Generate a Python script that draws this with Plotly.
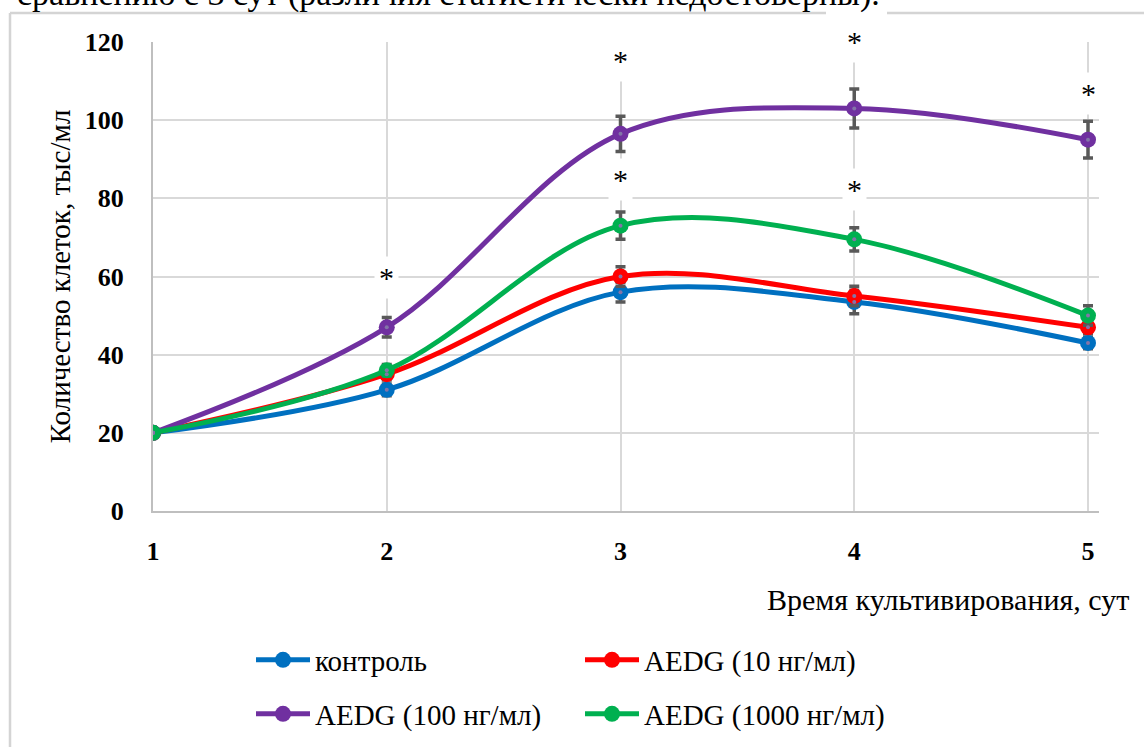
import plotly.graph_objects as go

# ---- data ----
days = [1, 2, 3, 4, 5]
control = [20, 31, 56, 53.5, 43]
aedg10 = [20, 35, 60, 55, 47]
aedg100 = [20, 47, 96.5, 103, 95]
aedg1000 = [20, 36, 73, 69.5, 50]

control_err = [0, 1.5, 2.5, 3, 1.5]
aedg10_err = [0, 1.5, 2.5, 2.5, 1.5]
aedg100_err = [0, 2.5, 4.5, 5, 4.7]
aedg1000_err = [0, 1.5, 3.5, 3, 2.5]

series_names = ["контроль", "AEDG (10 нг/мл)", "AEDG (100 нг/мл)", "AEDG (1000 нг/мл)"]

star_x = [2, 3, 3, 4, 4, 5]
star_y = [60, 115.5, 85, 120, 82.5, 107]

y_ticks = [0, 20, 40, 60, 80, 100, 120]
x_ticks = [1, 2, 3, 4, 5]

# ---- geometry helpers (layout only) ----
W, H = 1144, 747
L, R, T, B = 153, 45, 42, 236
PW, PH = W - L - R, H - T - B


def xp(px):
    return (px - L) / PW


def yp(py):
    return (H - B - py) / PH


def yc(py):
    return 1 - py / H


SERIF = "Liberation Serif, Times New Roman, serif"
colors = ["#0070C0", "#FF0000", "#7030A0", "#00B050"]
values = [control, aedg10, aedg100, aedg1000]
errors = [control_err, aedg10_err, aedg100_err, aedg1000_err]
legends = ["legend", "legend", "legend2", "legend2"]

fig = go.Figure()
for name, col, vals, err, lg in zip(series_names, colors, values, errors, legends):
    fig.add_trace(go.Scatter(
        x=days, y=vals, name=name, mode="lines+markers",
        line=dict(color=col, width=5, shape="spline", smoothing=1.0),
        marker=dict(color=col, size=16),
        error_y=dict(type="data", array=err, visible=True, color="#595959",
                     thickness=3.5, width=5),
        legend=lg,
    ))
# small inner dots of the markers
for col, vals in zip(colors, values):
    fig.add_trace(go.Scatter(
        x=days, y=vals, mode="markers", showlegend=False, hoverinfo="skip",
        marker=dict(color="#8374A8", size=4),
    ))

# asterisks
for sx, sy in zip(star_x, star_y):
    fig.add_annotation(
        x=sx, y=sy, xref="x", yref="y", text="*", showarrow=False,
        font=dict(family=SERIF, size=30, color="black"),
        bgcolor="white", borderpad=4, yshift=1 if sy >= 120 else -1,
    )

# x-axis title
fig.add_annotation(
    x=xp(1131), y=yp(599), xref="paper", yref="paper",
    xanchor="right", yanchor="middle", showarrow=False,
    text="Время культивирования, сут",
    font=dict(family=SERIF, size=30, color="black"),
)
# cut-off caption at the top
fig.add_annotation(
    x=xp(882), y=yp(15), xref="paper", yref="paper",
    xanchor="right", yanchor="bottom", showarrow=False,
    text="сравнению с 3 сут (различия статистически недостоверны).",
    font=dict(family=SERIF, size=34, color="black"),
)

# frame of the chart area
frame = dict(color="#d4d4d4", width=2.5)
fig.add_shape(type="line", xref="paper", yref="paper",
              x0=xp(10), x1=xp(10), y0=yp(13), y1=yp(H + 5), line=frame)
fig.add_shape(type="line", xref="paper", yref="paper",
              x0=xp(10), x1=xp(826), y0=yp(13), y1=yp(13), line=frame)
fig.add_shape(type="line", xref="paper", yref="paper",
              x0=xp(887), x1=xp(W + 5), y0=yp(13), y1=yp(13), line=frame)

legend_common = dict(
    orientation="h", xanchor="left", yanchor="middle", yref="container",
    entrywidth=260, entrywidthmode="pixels", bgcolor="rgba(0,0,0,0)",
    font=dict(family=SERIF, size=29, color="black"), itemwidth=54,
    tracegroupgap=0,
)

fig.update_layout(
    width=W, height=H,
    margin=dict(l=L, r=R, t=T, b=B, pad=0),
    paper_bgcolor="white", plot_bgcolor="white",
    font=dict(family=SERIF, color="black"),
    xaxis=dict(
        range=[1, 1 + (1099 - 153) / ((1088 - 153) / 4)],
        tickvals=x_ticks, ticktext=[str(v) for v in x_ticks],
        showgrid=True, gridcolor="#d9d9d9", gridwidth=2,
        showline=True, linecolor="#bfbfbf", linewidth=2,
        zeroline=False, ticks="", ticklabelstandoff=16,
        tickfont=dict(family=SERIF, size=26, color="black", weight="bold"),
    ),
    yaxis=dict(
        range=[0, 120],
        tickvals=y_ticks, ticktext=[str(v) for v in y_ticks],
        showgrid=True, gridcolor="#d9d9d9", gridwidth=2,
        showline=True, linecolor="#bfbfbf", linewidth=2,
        zeroline=False, ticks="", ticklabelstandoff=22,
        tickfont=dict(family=SERIF, size=26, color="black", weight="bold"),
        title=dict(text="Количество клеток, тыс/мл", standoff=6,
                   font=dict(family=SERIF, size=29, color="black")),
    ),
    legend=dict(x=xp(251), y=yc(660), **legend_common),
    legend2=dict(x=xp(251), y=yc(714), **legend_common),
    showlegend=True,
)

fig.write_html("out.html", config={"displayModeBar": False},
               post_script="document.body.style.margin='0';document.body.style.overflow='hidden';")
